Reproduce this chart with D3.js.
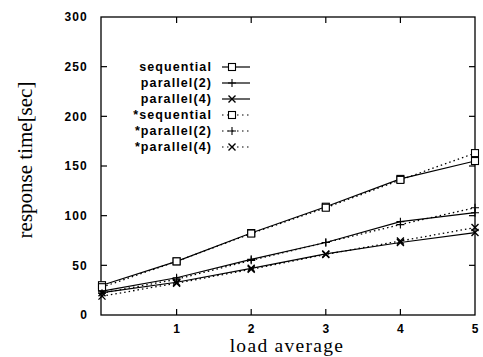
<!DOCTYPE html>
<html>
<head>
<meta charset="utf-8">
<script src="https://cdnjs.cloudflare.com/ajax/libs/d3/7.8.5/d3.min.js"></script>
<style>
  body { margin: 0; background: #fff; }
  .tick-label { font-family: "Liberation Sans", Arial, sans-serif; font-weight: bold; font-size: 12px; letter-spacing: 1.2px; }
  .axis-title { font-family: "Liberation Serif", "Times New Roman", serif; font-size: 21px; }
  .legend { font-family: "Liberation Sans", Arial, sans-serif; font-weight: bold; font-size: 12.5px; letter-spacing: 1.1px; }
</style>
</head>
<body>
<div id="chart"></div>
<script>
// load average values (x)
var loads = [0, 1, 2, 3, 4, 5];
var xTicks = [1, 2, 3, 4, 5];
var yTicks = [0, 50, 100, 150, 200, 250, 300];

// response time [sec]
var sequential   = [30, 54, 82.5, 109, 137, 155];
var parallel2    = [24, 37.5, 56, 73, 94, 103];
var parallel4    = [22.5, 33, 47, 61.5, 73, 83];
var sequentialS  = [28, 54, 82, 108, 136, 163];
var parallel2S   = [22, 36, 55, 73, 91, 108];
var parallel4S   = [19, 32, 46, 61, 74.5, 88];

var seriesNames = ['sequential', 'parallel(2)', 'parallel(4)', '*sequential', '*parallel(2)', '*parallel(4)'];
var seriesValues = [sequential, parallel2, parallel4, sequentialS, parallel2S, parallel4S];
var seriesMarkers = ['square', 'plus', 'cross', 'square', 'plus', 'cross'];
var seriesDashed = [false, false, false, true, true, true];

var width = 483, height = 357;
var margin = {top: 17, right: 8, bottom: 42, left: 101};

var svg = d3.select('#chart').append('svg')
    .attr('width', width)
    .attr('height', height);

var x = d3.scaleLinear()
    .domain([0, 5])
    .range([margin.left + 1, width - margin.right]);

var y = d3.scaleLinear()
    .domain([0, 300])
    .range([height - margin.bottom, margin.top]);

// frame
svg.append('rect')
    .attr('x', margin.left)
    .attr('y', y(300))
    .attr('width', x(5) - margin.left)
    .attr('height', y(0) - y(300))
    .attr('fill', 'none')
    .attr('stroke', '#000')
    .attr('stroke-width', 1.3);

var tickLen = 6;

// y ticks (left & right, inward)
yTicks.forEach(function(t) {
  if (t > 0 && t < 300) {
    svg.append('line')
        .attr('x1', margin.left).attr('x2', margin.left + tickLen)
        .attr('y1', y(t)).attr('y2', y(t))
        .attr('stroke', '#000').attr('stroke-width', 1.2);
    svg.append('line')
        .attr('x1', x(5)).attr('x2', x(5) - tickLen)
        .attr('y1', y(t)).attr('y2', y(t))
        .attr('stroke', '#000').attr('stroke-width', 1.2);
  }
  svg.append('text')
      .attr('class', 'tick-label')
      .attr('x', margin.left - 13)
      .attr('y', y(t))
      .attr('dy', '0.35em')
      .attr('text-anchor', 'end')
      .text(t);
});

// x ticks (bottom & top, inward)
xTicks.forEach(function(t) {
  if (t < 5) {
    svg.append('line')
        .attr('x1', x(t)).attr('x2', x(t))
        .attr('y1', y(0)).attr('y2', y(0) - tickLen)
        .attr('stroke', '#000').attr('stroke-width', 1.2);
    svg.append('line')
        .attr('x1', x(t)).attr('x2', x(t))
        .attr('y1', y(300)).attr('y2', y(300) + tickLen)
        .attr('stroke', '#000').attr('stroke-width', 1.2);
  }
  svg.append('text')
      .attr('class', 'tick-label')
      .attr('x', x(t) + 0.6)
      .attr('y', y(0) + 18)
      .attr('text-anchor', 'middle')
      .text(t);
});

// axis titles
svg.append('text')
    .attr('class', 'axis-title')
    .attr('x', 287)
    .attr('y', 352)
    .attr('text-anchor', 'middle')
    .style('font-size', '19.5px')
    .style('letter-spacing', '1.3px')
    .text('load average');

svg.append('text')
    .attr('class', 'axis-title')
    .attr('transform', 'translate(32,' + 160 + ') rotate(-90)')
    .attr('text-anchor', 'middle')
    .text('response time[sec]');

function drawMarker(g, type, cx, cy) {
  if (type === 'square') {
    g.append('rect')
        .attr('x', cx - 3.5).attr('y', cy - 3.5)
        .attr('width', 7).attr('height', 7)
        .attr('fill', '#fff').attr('stroke', '#000').attr('stroke-width', 1.1);
  } else if (type === 'plus') {
    g.append('path')
        .attr('d', 'M' + (cx - 4) + ',' + cy + 'H' + (cx + 4) + 'M' + cx + ',' + (cy - 4) + 'V' + (cy + 4))
        .attr('stroke', '#000').attr('stroke-width', 1.1).attr('fill', 'none');
  } else {
    g.append('path')
        .attr('d', 'M' + (cx - 3.5) + ',' + (cy - 3.5) + 'L' + (cx + 3.5) + ',' + (cy + 3.5) +
                   'M' + (cx - 3.5) + ',' + (cy + 3.5) + 'L' + (cx + 3.5) + ',' + (cy - 3.5))
        .attr('stroke', '#000').attr('stroke-width', 1.4).attr('fill', 'none');
  }
}

var line = d3.line()
    .x(function(d, i) { return x(loads[i]); })
    .y(function(d) { return y(d); });

// series
seriesValues.forEach(function(vals, s) {
  var g = svg.append('g');
  g.append('path')
      .datum(vals)
      .attr('d', line)
      .attr('fill', 'none')
      .attr('stroke', '#000')
      .attr('stroke-width', seriesDashed[s] ? 1.3 : 1.2)
      .attr('stroke-dasharray', seriesDashed[s] ? '1.5,3' : null);
  vals.forEach(function(v, i) {
    drawMarker(g, seriesMarkers[s], x(loads[i]), y(v));
  });
});

// legend
var legendRight = 212, legendTop = 67, legendStep = 16;
seriesNames.forEach(function(name, s) {
  var ly = legendTop + s * legendStep;
  svg.append('text')
      .attr('class', 'legend')
      .attr('x', legendRight)
      .attr('y', ly)
      .attr('dy', '0.35em')
      .attr('text-anchor', 'end')
      .text(name);
  var g = svg.append('g');
  g.append('line')
      .attr('x1', 222).attr('x2', 250)
      .attr('y1', ly).attr('y2', ly)
      .attr('stroke', '#000')
      .attr('stroke-width', 1.2)
      .attr('stroke-dasharray', seriesDashed[s] ? '1.5,3.5' : null);
  drawMarker(g, seriesMarkers[s], 232, ly);
});
</script>
</body>
</html>
